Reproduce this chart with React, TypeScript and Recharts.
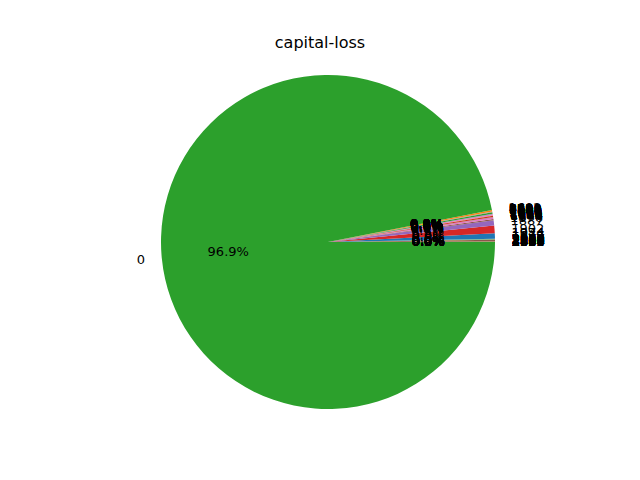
import { PieChart, Pie, Cell } from "recharts";

// capital-loss values (category labels), in plotted order; "0" is last
const lossValues = [
  "4356", "3900", "3770", "3683", "3004", "2824", "2754", "2603", "2559", "2547",
  "2489", "2472", "2467", "2457", "2444", "2415", "2392", "2377", "2352", "2339",
  "2282", "2267", "2258", "2246", "2238", "2231", "2206", "2205", "2201", "2179",
  "2174", "2163", "2149", "2129", "2080", "2057", "2051", "2042", "2001", "1980",
  "1977", "1974", "1944", "1902", "1887", "1876", "1848", "1844", "1825", "1816",
  "1762", "1755", "1741", "1740", "1735", "1726", "1721", "1719", "1672", "1669",
  "1668", "1651", "1648", "1628", "1617", "1594", "1590", "1579", "1573", "1564",
  "1539", "1504", "1485", "1411", "1408", "1380", "1340", "1258", "1138", "1092",
  "974", "880", "810", "653", "625", "419", "323", "213", "155", "1510",
  "1429", "1602", "0",
];

const lossCounts = [
  2, 1, 1, 2, 1, 1, 1, 1, 3, 1,
  1, 1, 1, 1, 1, 49, 2, 2, 1, 1,
  1, 1, 1, 1, 1, 1, 1, 1, 2, 1,
  1, 1, 1, 1, 1, 1, 1, 1, 2, 1,
  168, 1, 1, 240, 159, 39, 51, 1, 1, 1,
  1, 1, 1, 42, 1, 1, 1, 1, 3, 1,
  1, 1, 1, 1, 1, 1, 40, 2, 1, 1,
  1, 1, 51, 1, 1, 1, 1, 1, 1, 1,
  1, 1, 1, 1, 1, 1, 1, 1, 1, 1,
  1, 47, 31000,
];

const COLORS = [
  "#1f77b4", "#ff7f0e", "#2ca02c", "#d62728", "#9467bd",
  "#8c564b", "#e377c2", "#7f7f7f", "#bcbd22", "#17becf",
];

const data = lossValues.map((name, i) => ({ name, value: lossCounts[i] }));

const RADIAN = Math.PI / 180;

const renderLabel = ({ cx, cy, midAngle, outerRadius, percent, name }: any) => {
  const ca = Math.cos(-midAngle * RADIAN);
  const sa = Math.sin(-midAngle * RADIAN);
  const lx = cx + outerRadius * 1.1 * ca;
  const ly = cy + outerRadius * 1.1 * sa;
  const px = cx + outerRadius * 0.6 * ca;
  const py = cy + outerRadius * 0.6 * sa;
  return (
    <g>
      <text x={lx} y={ly} fill="#000" stroke="none" fontSize={13} textAnchor={ca >= 0 ? "start" : "end"} dominantBaseline="central">
        {name}
      </text>
      <text x={px} y={py} fill="#000" stroke="none" fontSize={13} textAnchor="middle" dominantBaseline="central">
        {`${(percent * 100).toFixed(1)}%`}
      </text>
    </g>
  );
};

export default function App() {
  return (
    <div style={{ position: "absolute", left: 0, top: 0, width: 640, height: 480, background: "#fff", fontFamily: "DejaVu Sans" }}>
      <div style={{ position: "absolute", top: 33, width: 640, textAlign: "center", fontSize: 16 }}>
        capital-loss
      </div>
      <PieChart width={640} height={480} margin={{ top: 0, right: 0, bottom: 0, left: 0 }}>
        <Pie
          data={data}
          dataKey="value"
          nameKey="name"
          cx={328}
          cy={242}
          outerRadius={167}
          startAngle={0}
          endAngle={360}
          stroke="none"
          labelLine={false}
          label={renderLabel}
          isAnimationActive={false}
        >
          {data.map((d, i) => (
            <Cell key={d.name} fill={COLORS[i % COLORS.length]} />
          ))}
        </Pie>
      </PieChart>
    </div>
  );
}
